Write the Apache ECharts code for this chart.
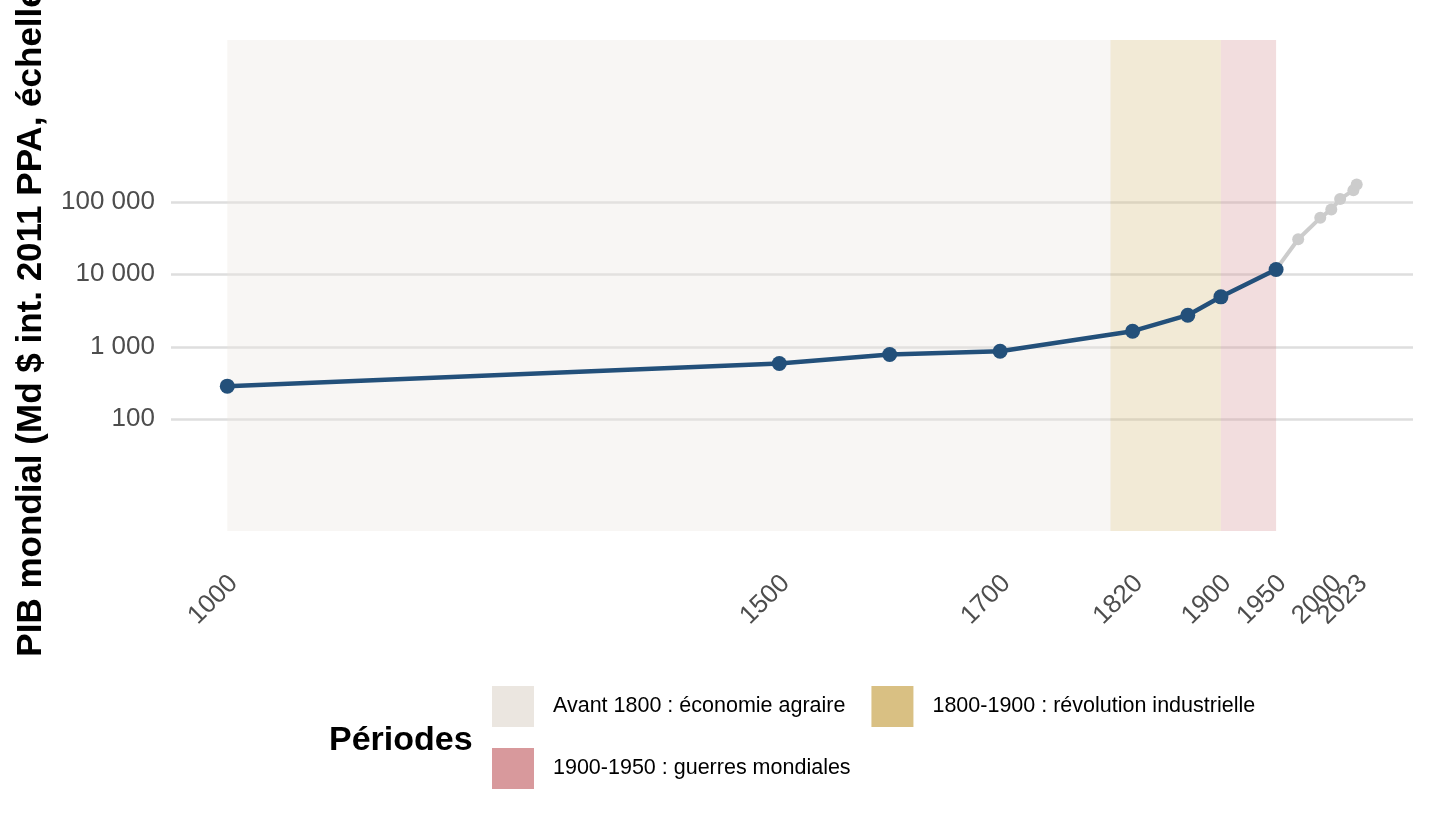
<!DOCTYPE html>
<html>
<head>
<meta charset="utf-8">
<script src="https://cdn.jsdelivr.net/npm/echarts@6/dist/echarts.min.js"></script>
<style>
html,body{margin:0;padding:0;background:#fff;}
#chart{width:1440px;height:825px;}
</style>
</head>
<body>
<div id="chart"></div>
<script>
// ---- data ----
const mainYears = [1000, 1500, 1600, 1700, 1820, 1870, 1900, 1950];
const mainValues = [286, 588, 781, 869, 1641, 2728, 4887, 11670];
const recentYears = [1950, 1970, 1990, 2000, 2008, 2020, 2023];
const recentValues = [11670, 30500, 60100, 78500, 109000, 145000, 174000];
const periodNames = ['Avant 1800 : économie agraire', '1800-1900 : révolution industrielle', '1900-1950 : guerres mondiales'];
const periodStart = [1000, 1800, 1900];
const periodEnd = [1800, 1900, 1950];
const xTickLabels = [1000, 1500, 1700, 1820, 1900, 1950, 2000, 2023];
const yTickLabels = [100, 1000, 10000, 100000];

const periodColors = ['#ebe6e0', '#d9c083', '#d8999c'];
const periodFill = ['rgba(235,230,224,0.36)', 'rgba(217,192,131,0.33)', 'rgba(216,153,156,0.33)'];
const FONT = 'Liberation Sans, Arial, Helvetica, sans-serif';

function fmtThousands(v) {
  return String(Math.round(v)).replace(/\B(?=(\d{3})+(?!\d))/g, ' ');
}

const periodSeries = periodNames.map((name, i) => ({
  name: name,
  type: 'line',
  data: [],
  silent: true,
  itemStyle: { color: periodColors[i] },
  lineStyle: { color: periodColors[i] },
  z: 1,
  markArea: {
    silent: true,
    itemStyle: { color: periodFill[i] },
    data: [[{ xAxis: periodStart[i] }, { xAxis: periodEnd[i] }]]
  }
}));

const legendCommon = {
  orient: 'horizontal',
  icon: 'rect',
  itemWidth: 42,
  itemHeight: 41,
  itemGap: 26,
  padding: 0,
  selectedMode: false,
  textStyle: { fontFamily: FONT, fontSize: 21.5, color: '#000', padding: [0, 0, 0, 14] }
};

function xAxisDef(values) {
  return {
    type: 'value',
    position: 'bottom',
    min: 949,
    max: 2074,
    axisLine: { show: false },
    axisTick: { show: false, customValues: values },
    splitLine: { show: false },
    axisLabel: {
      customValues: values,
      rotate: 45,
      margin: 42,
      verticalAlign: 'top',
      lineHeight: 18,
      fontSize: 26,
      color: '#4d4d4d',
      fontFamily: FONT,
      hideOverlap: false,
      formatter: v => String(v)
    }
  };
}

const chart = echarts.init(document.getElementById('chart'), null, { renderer: 'canvas' });
chart.setOption({
  animation: false,
  backgroundColor: '#ffffff',
  textStyle: { fontFamily: FONT },
  title: {
    text: 'Périodes',
    left: 329,
    top: 724,
    padding: 0,
    textStyle: { fontFamily: FONT, fontSize: 34, fontWeight: 'bold', color: '#000' }
  },
  grid: { left: 171, right: 27, top: 40, bottom: 294, outerBoundsMode: 'none', containLabel: false },
  xAxis: [
    xAxisDef(xTickLabels.slice(0, -1)),
    xAxisDef(xTickLabels.slice(-1))
  ],
  yAxis: {
    type: 'log',
    min: 2.87,
    max: 1.71e7,
    name: 'PIB mondial (Md $ int. 2011 PPA, échelle log)',
    nameLocation: 'middle',
    nameRotate: 90,
    nameGap: 122,
    nameTextStyle: { fontFamily: FONT, fontSize: 35, fontWeight: 'bold', color: '#000' },
    axisLine: { show: false },
    axisTick: { show: false, customValues: yTickLabels },
    splitLine: { show: true, lineStyle: { color: '#dedede', width: 2.5 } },
    axisLabel: {
      customValues: yTickLabels,
      margin: 16,
      fontSize: 26,
      color: '#4d4d4d',
      fontFamily: FONT,
      hideOverlap: false,
      formatter: v => fmtThousands(v)
    }
  },
  legend: [
    Object.assign({}, legendCommon, { data: [periodNames[0], periodNames[1]], left: 492, top: 686 }),
    Object.assign({}, legendCommon, { data: [periodNames[2]], left: 492, top: 748 })
  ],
  series: [
    ...periodSeries,
    {
      name: 'recent',
      type: 'line',
      data: recentYears.map((y, i) => [y, recentValues[i]]),
      symbol: 'circle',
      symbolSize: 12,
      showSymbol: true,
      itemStyle: { color: '#cccccc' },
      lineStyle: { color: '#cccccc', width: 4 },
      silent: true,
      z: 3
    },
    {
      name: 'main',
      type: 'line',
      data: mainYears.map((y, i) => [y, mainValues[i]]),
      symbol: 'circle',
      symbolSize: 15,
      itemStyle: { color: '#23507a' },
      lineStyle: { color: '#23507a', width: 4.5 },
      silent: true,
      z: 4
    }
  ]
});
</script>
</body>
</html>
